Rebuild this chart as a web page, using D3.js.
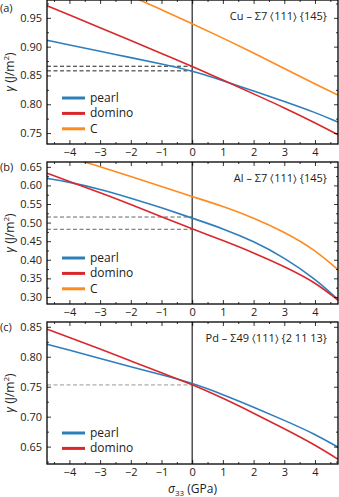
<!DOCTYPE html>
<meta charset="utf-8">
<style>
body { margin: 0; background: #fff; }
svg { display: block; font-family: "Open Sans", "DejaVu Sans", sans-serif; }
.frame { fill: none; stroke: #000; stroke-width: 1.3px; }
.axis path { display: none; }
.axis line { stroke: #000; stroke-width: 0.8px; }
.axis text { font-size: 11px; fill: #222; font-family: "Open Sans", sans-serif; }
.curve { fill: none; stroke-width: 1.6px; }
</style>
<svg width="339" height="497"></svg>
<script src="https://cdn.jsdelivr.net/npm/d3@7"></script>
<script>
// stress values (GPa) where the curves were read
var sigma = [-4.73, -4, -3, -2, -1, 0, 1, 2, 3, 4, 4.75];

// (a) Cu
var cuPearl  = [0.911, 0.903, 0.892, 0.881, 0.870, 0.858, 0.841, 0.823, 0.805, 0.786, 0.769];
var cuDomino = [0.971, 0.955, 0.933, 0.911, 0.888, 0.866, 0.842, 0.818, 0.794, 0.768, 0.747];
var cuC      = [1.053, 1.036, 1.012, 0.988, 0.964, 0.940, 0.915, 0.889, 0.862, 0.835, 0.816];
var cuRef = [0.866, 0.858];

// (b) Al
var alPearl  = [0.619, 0.609, 0.590, 0.566, 0.540, 0.512, 0.484, 0.450, 0.406, 0.349, 0.293];
var alDomino = [0.633, 0.610, 0.581, 0.549, 0.516, 0.483, 0.452, 0.419, 0.382, 0.340, 0.291];
var alC      = [0.695, 0.676, 0.650, 0.624, 0.597, 0.570, 0.544, 0.513, 0.475, 0.427, 0.373];
var alRef = [0.515, 0.482];

// (c) Pd
var pdPearl  = [0.821, 0.811, 0.797, 0.783, 0.770, 0.756, 0.737, 0.716, 0.694, 0.671, 0.649];
var pdDomino = [0.846, 0.832, 0.813, 0.793, 0.773, 0.754, 0.731, 0.706, 0.680, 0.653, 0.629];
var pdRef = [0.753];

var xTicks = [-4, -3, -2, -1, 0, 1, 2, 3, 4];
var xMinor = [-4.5, -3.5, -2.5, -1.5, -0.5, 0.5, 1.5, 2.5, 3.5, 4.5];

var colors = { pearl: "#2f7ebc", domino: "#d8282c", C: "#fd8b1f" };

var panels = [
  { letter: "(a)", sys: "Cu \u2013 \u03a37 ", plane: " {145}", top: 0, bottom: 144,
    domain: [0.731, 0.981], yTicks: [0.75, 0.80, 0.85, 0.90, 0.95],
    series: [["pearl", cuPearl], ["domino", cuDomino], ["C", cuC]],
    refs: cuRef, refColor: "#222", legendY: 98 },
  { letter: "(b)", sys: "Al \u2013 \u03a37 ", plane: " {145}", top: 162, bottom: 304,
    domain: [0.281, 0.663], yTicks: [0.30, 0.35, 0.40, 0.45, 0.50, 0.55, 0.60, 0.65],
    series: [["pearl", alPearl], ["domino", alDomino], ["C", alC]],
    refs: alRef, refColor: "#666", legendY: 258 },
  { letter: "(c)", sys: "Pd \u2013 \u03a349 ", plane: " {2 11 13}", top: 322, bottom: 464,
    domain: [0.621, 0.858], yTicks: [0.65, 0.70, 0.75, 0.80, 0.85],
    series: [["pearl", pdPearl], ["domino", pdDomino]],
    refs: pdRef, refColor: "#999", legendY: 433 }
];

var svg = d3.select("svg"),
    left = 47, right = 338;

var x = d3.scaleLinear().domain([-4.73, 4.75]).range([left, right]);

panels.forEach(function(p, i) {
  var y = d3.scaleLinear().domain(p.domain).range([p.bottom, p.top]);
  var g = svg.append("g");

  // minor y ticks every 0.025
  var yMinor = d3.range(Math.ceil(p.domain[0] / 0.025), Math.floor(p.domain[1] / 0.025) + 1)
    .map(function(k) { return k * 0.025; })
    .filter(function(v) { return Math.abs(Math.round(v / 0.05) * 0.05 - v) > 1e-6; });

  var clipId = "clip" + i;
  g.append("clipPath").attr("id", clipId)
    .append("rect")
      .attr("x", left).attr("y", p.top)
      .attr("width", right - left).attr("height", p.bottom - p.top);

  // dashed reference lines up to sigma = 0
  p.refs.forEach(function(v) {
    g.append("line")
      .attr("x1", left).attr("x2", x(0))
      .attr("y1", y(v)).attr("y2", y(v))
      .attr("stroke", p.refColor)
      .attr("stroke-width", 1)
      .attr("stroke-dasharray", "4,2.5");
  });

  // sigma = 0
  g.append("line")
    .attr("x1", x(0)).attr("x2", x(0))
    .attr("y1", p.top).attr("y2", p.bottom)
    .attr("stroke", "#333").attr("stroke-width", 1.3);

  var line = d3.line()
    .curve(d3.curveBasis)
    .x(function(d, j) { return x(sigma[j]); })
    .y(function(d) { return y(d); });

  var cg = g.append("g").attr("clip-path", "url(#" + clipId + ")");
  p.series.forEach(function(s) {
    cg.append("path")
      .datum(s[1])
      .attr("class", "curve")
      .attr("stroke", colors[s[0]])
      .attr("d", line);
  });

  // ticks on all four sides, pointing in
  g.append("g").attr("class", "axis")
    .attr("transform", "translate(0," + p.bottom + ")")
    .call(d3.axisBottom(x).tickValues(xTicks).tickSize(-4).tickPadding(4).tickFormat(d3.format("d")));
  g.append("g").attr("class", "axis")
    .attr("transform", "translate(0," + p.bottom + ")")
    .call(d3.axisBottom(x).tickValues(xMinor).tickSize(-2).tickFormat(""));
  g.append("g").attr("class", "axis")
    .attr("transform", "translate(0," + p.top + ")")
    .call(d3.axisTop(x).tickValues(xTicks).tickSize(-4).tickFormat(""));
  g.append("g").attr("class", "axis")
    .attr("transform", "translate(0," + p.top + ")")
    .call(d3.axisTop(x).tickValues(xMinor).tickSize(-2).tickFormat(""));

  g.append("g").attr("class", "axis")
    .attr("transform", "translate(" + left + ",0)")
    .call(d3.axisLeft(y).tickValues(p.yTicks).tickSize(-4).tickPadding(5).tickFormat(d3.format(".2f")));
  g.append("g").attr("class", "axis")
    .attr("transform", "translate(" + left + ",0)")
    .call(d3.axisLeft(y).tickValues(yMinor).tickSize(-2).tickFormat(""));
  g.append("g").attr("class", "axis")
    .attr("transform", "translate(" + right + ",0)")
    .call(d3.axisRight(y).tickValues(p.yTicks).tickSize(-4).tickFormat(""));
  g.append("g").attr("class", "axis")
    .attr("transform", "translate(" + right + ",0)")
    .call(d3.axisRight(y).tickValues(yMinor).tickSize(-2).tickFormat(""));

  g.append("rect").attr("class", "frame")
    .attr("x", left).attr("y", p.top)
    .attr("width", right - left).attr("height", p.bottom - p.top);

  // legend
  p.series.forEach(function(s, j) {
    var ly = p.legendY + j * 15.4;
    g.append("line")
      .attr("x1", 62).attr("x2", 85)
      .attr("y1", ly).attr("y2", ly)
      .attr("stroke", colors[s[0]]).attr("stroke-width", 3);
    g.append("text")
      .attr("x", 90).attr("y", ly + 4)
      .attr("font-size", 12).attr("fill", "#222")
      .text(s[0]);
  });

  // system label
  var t = g.append("text")
    .attr("x", 327).attr("y", p.top + 20)
    .attr("text-anchor", "end")
    .attr("font-size", 11).attr("fill", "#222");
  t.append("tspan").text(p.sys);
  t.append("tspan").attr("font-family", "DejaVu Sans").text("\u2329");
  t.append("tspan").text("111");
  t.append("tspan").attr("font-family", "DejaVu Sans").text("\u232a");
  t.append("tspan").text(p.plane);

  // panel letter
  g.append("text")
    .attr("x", 0).attr("y", p.top + (i == 0 ? 12 : 9))
    .attr("font-size", 11).attr("fill", "#222")
    .text(p.letter);

  // y label
  var cy = (p.top + p.bottom) / 2;
  var yl = g.append("text")
    .attr("transform", "translate(14," + cy + ") rotate(-90)")
    .attr("text-anchor", "middle")
    .attr("font-size", 12).attr("fill", "#222");
  yl.append("tspan").attr("font-style", "italic").text("\u03b3");
  yl.append("tspan").text(" (J/m");
  yl.append("tspan").attr("font-size", 8).attr("dy", -5).text("2");
  yl.append("tspan").attr("dy", 5).text(")");
});

// x label
var xl = svg.append("text")
  .attr("x", (left + right) / 2).attr("y", 493)
  .attr("text-anchor", "middle")
  .attr("font-size", 12).attr("fill", "#222");
xl.append("tspan").attr("font-style", "italic").text("\u03c3");
xl.append("tspan").attr("font-size", 8).attr("dy", 3).text("33");
xl.append("tspan").attr("dy", -3).text(" (GPa)");
</script>
